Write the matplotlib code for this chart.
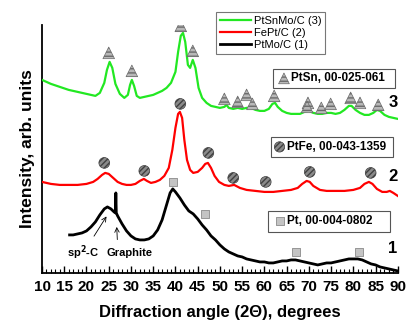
import matplotlib
matplotlib.use("Agg")
import matplotlib.pyplot as plt
from matplotlib.patches import Rectangle
from matplotlib.ticker import MultipleLocator

plt.rcParams['font.family'] = ['Liberation Sans', 'DejaVu Sans']

# --- data (intensity in arbitrary units) ---
x3 = [10, 12, 14, 16, 18, 20, 22, 23, 24, 24.6, 25.2, 25.8, 26.5, 27.5, 28.5, 29.3, 29.8,
      30.2, 30.7, 31.3, 32, 33, 34, 35, 36, 37, 38, 39, 40, 40.6, 41.2, 41.7, 42.2, 42.8,
      43.3, 43.9, 44.5, 45.2, 46, 47, 48, 49, 50, 51, 51.5, 52, 53, 54, 55, 56, 57, 58, 59,
      60, 61, 61.8, 62.4, 63, 64, 65, 66, 67, 68, 69, 70, 71, 72, 73, 74, 75, 76, 77, 78,
      79, 79.6, 80.5, 81.5, 82.5, 83.5, 84.5, 85.3, 86, 87, 88, 89, 90]
p3 = [80, 84, 87, 90, 92, 94, 96, 93, 83, 70, 62, 68, 84, 94, 98, 95, 85,
      80, 86, 96, 98, 97, 96, 95, 93, 91, 88, 83, 72, 52, 36, 33, 42, 65,
      68, 60, 68, 88, 98, 103, 106, 107, 108, 107, 105, 108, 109, 108, 109, 108, 108, 110, 111,
      111, 109, 104, 103, 107, 111, 113, 114, 114, 114, 112, 111, 113, 114, 114, 113, 113, 114, 113, 110,
      106, 106, 110, 113, 115, 115, 113, 110, 111, 115, 117, 118, 119]

x2 = [10, 12, 14, 16, 18, 20, 21.5, 22.5, 23.5, 24.2, 25, 26, 27, 28, 29, 30, 31, 32, 32.9,
      33.6, 34.5, 35.5, 36.5, 37.5, 38.5, 39.3, 40, 40.6, 41.0, 41.5, 42, 42.6, 43.3, 44, 45,
      46, 46.7, 47.3, 48, 48.8, 49.8, 51, 52, 53.2, 54.5, 56, 58, 60, 62, 64, 66, 67.5, 68.5,
      69.5, 70.2, 71, 72.5, 74, 76, 78, 80, 81.5, 82.5, 83.5, 84.3, 85.3, 86.5, 87.5, 88.2, 89, 90]
p2 = [182, 184, 185, 185, 185, 184, 182, 179, 175, 173, 174, 178, 182, 184, 185, 185, 184, 181, 179,
      181, 183, 182, 180, 176, 168, 150, 128, 114, 112, 118, 140, 160, 170, 173, 172,
      168, 164, 163, 168, 176, 182, 185, 186, 185, 188, 190, 191, 192, 192, 191, 190, 188, 184,
      181, 182, 186, 190, 191, 191, 191, 190, 188, 184, 182, 184, 189, 192, 192, 191, 193, 196]

x1 = [16.2, 17, 18, 19, 20, 21, 22, 23, 24, 24.7, 25.5, 26.2, 26.5, 26.6, 26.7, 27, 28, 29, 30,
      31, 32, 33, 34, 35, 36, 37, 38, 38.8, 39.4, 40, 41, 42, 43, 44, 45, 46, 47, 48, 49, 50,
      51, 52, 53, 54, 55, 56, 57, 58, 59, 60, 61, 62, 63, 64, 65, 66, 67, 68, 69, 70, 71, 72,
      73, 74, 75, 76, 77, 78, 79, 80, 81, 82, 83, 84, 85, 86, 87, 88, 89, 90]
p1 = [235, 235, 234, 233, 231, 227, 222, 215, 209, 207, 209, 212, 213, 193, 213, 216, 224, 231, 236,
      239, 240, 240, 239, 236, 230, 220, 205, 193, 189, 192, 198, 205, 211, 214, 219, 225, 230, 236, 240, 245,
      249, 252, 254, 256, 257, 259, 260, 261, 262, 262, 263, 263, 262, 261, 261, 260, 260, 261, 262, 263, 264, 265,
      264, 263, 263, 262, 261, 260, 259, 259, 259, 260, 262, 264, 265, 267, 268, 269, 270, 271]

# phase reference marks (x position, pixel row)
sn_x = [25.0, 30.2, 41.2, 43.9, 51.0, 54.0, 56.0, 57.3, 62.2, 69.8, 69.6, 72.8, 74.9, 79.4, 81.5, 85.6]
sn_p = [53, 71, 26, 51, 99, 102, 95, 104, 96, 103, 107, 108, 104, 98, 103, 105]
fe_x = [24.0, 33.0, 41.1, 47.4, 53.0, 60.3, 70.2, 83.9]
fe_p = [163, 171, 104, 153, 178, 182, 172, 173]
pt_x = [39.5, 46.6, 67.2, 81.2]
pt_p = [182, 214, 252, 252]

BASE = 273  # pixel row of the x axis
def inten(rows):
    return [BASE - r for r in rows]

fig = plt.figure(figsize=(4.08, 3.23), dpi=100)
ax = fig.add_axes([0.103, 0.155, 0.872, 0.768])

l3, = ax.plot(x3, inten(p3), color='#22e822', lw=1.6, label='PtSnMo/C (3)', zorder=3)
l2, = ax.plot(x2, inten(p2), color='#ff0000', lw=1.6, label='FePt/C (2)', zorder=3)
l1, = ax.plot(x1, inten(p1), color='black', lw=2.0, label='PtMo/C (1)', zorder=3)

ax.scatter(sn_x, inten(sn_p), marker='^', s=70, facecolor='#b8b8b8', edgecolor='#6a6a6a',
           hatch='----', lw=0.5, zorder=4)
ax.scatter(fe_x, inten(fe_p), marker='o', s=60, facecolor='#8a8a8a', edgecolor='#404040',
           hatch='//////', lw=0.5, zorder=4)
ax.scatter(pt_x, inten(pt_p), marker='s', s=36, facecolor='#c4c4c4', edgecolor='#8a8a8a',
           lw=0.6, zorder=4)

# phase boxes
boxes = [(61.9, 185, 89.3, 204, '^', 64.4, 'PtSn, 00-025-061'),
         (61.5, 116, 88.9, 136, 'o', 63.4, 'PtFe, 00-043-1359'),
         (60.8, 41, 88.2, 62, 's', 63.5, 'Pt, 00-004-0802')]
styles = {'^': dict(s=60, facecolor='#b8b8b8', edgecolor='#6a6a6a', hatch='----', lw=0.5),
          'o': dict(s=55, facecolor='#8a8a8a', edgecolor='#404040', hatch='//////', lw=0.5),
          's': dict(s=36, facecolor='#c4c4c4', edgecolor='#8a8a8a', lw=0.6)}
for x0, y0, x1b, y1b, m, mx, txt in boxes:
    ax.add_patch(Rectangle((x0, y0), x1b - x0, y1b - y0, fill=False, ec='#555555', lw=0.8, zorder=2))
    yc = (y0 + y1b) / 2
    ax.scatter([mx], [yc], marker=m, zorder=4, **styles[m])
    ax.text(mx + 1.6, yc, txt, fontsize=8.5, fontweight='bold', va='center', ha='left')

# curve numbers
ax.text(88.9, 170, '3', fontsize=12, fontweight='bold', va='center', ha='center')
ax.text(88.9, 96, '2', fontsize=12, fontweight='bold', va='center', ha='center')
ax.text(88.9, 24, '1', fontsize=12, fontweight='bold', va='center', ha='center')

# carbon annotations
ax.annotate('sp$^\\mathbf{2}$-C', xy=(24.5, 56.5), xytext=(19.3, 20), fontsize=8, fontweight='bold',
            ha='center', va='center',
            arrowprops=dict(arrowstyle='->', lw=0.6, color='black', shrinkA=4, shrinkB=0))
ax.annotate('Graphite', xy=(26.8, 46), xytext=(29.6, 20), fontsize=8, fontweight='bold',
            ha='center', va='center',
            arrowprops=dict(arrowstyle='->', lw=0.6, color='black', shrinkA=4, shrinkB=0,
                            relpos=(0.25, 1)))

leg = ax.legend(handles=[l3, l2, l1], loc='upper left', bbox_to_anchor=(0.49, 1.05),
                fontsize=8, frameon=True, fancybox=False, edgecolor='#555555',
                handlelength=2.8, handletextpad=0.3, borderpad=0.3, labelspacing=0.2,
                borderaxespad=0)
leg.get_frame().set_linewidth(0.8)

ax.set_xlim(10, 90)
ax.set_ylim(0, 248)
ax.spines['top'].set_visible(False)
ax.spines['right'].set_visible(False)
ax.spines['left'].set_linewidth(1.3)
ax.spines['bottom'].set_linewidth(1.3)
ax.set_yticks([])
ax.xaxis.set_major_locator(MultipleLocator(5))
ax.xaxis.set_minor_locator(MultipleLocator(1))
ax.tick_params(axis='x', which='major', direction='in', length=5, width=1, labelsize=11, pad=5)
ax.tick_params(axis='x', which='minor', direction='in', length=3, width=0.8)
for lab in ax.get_xticklabels():
    lab.set_fontweight('bold')

ax.set_xlabel('Diffraction angle (2\u0398), degrees', fontsize=12, fontweight='bold', labelpad=8)
ax.set_ylabel('Intensity, arb. units', fontsize=12.5, fontweight='bold', labelpad=5)

fig.savefig('out.png', dpi=100)
